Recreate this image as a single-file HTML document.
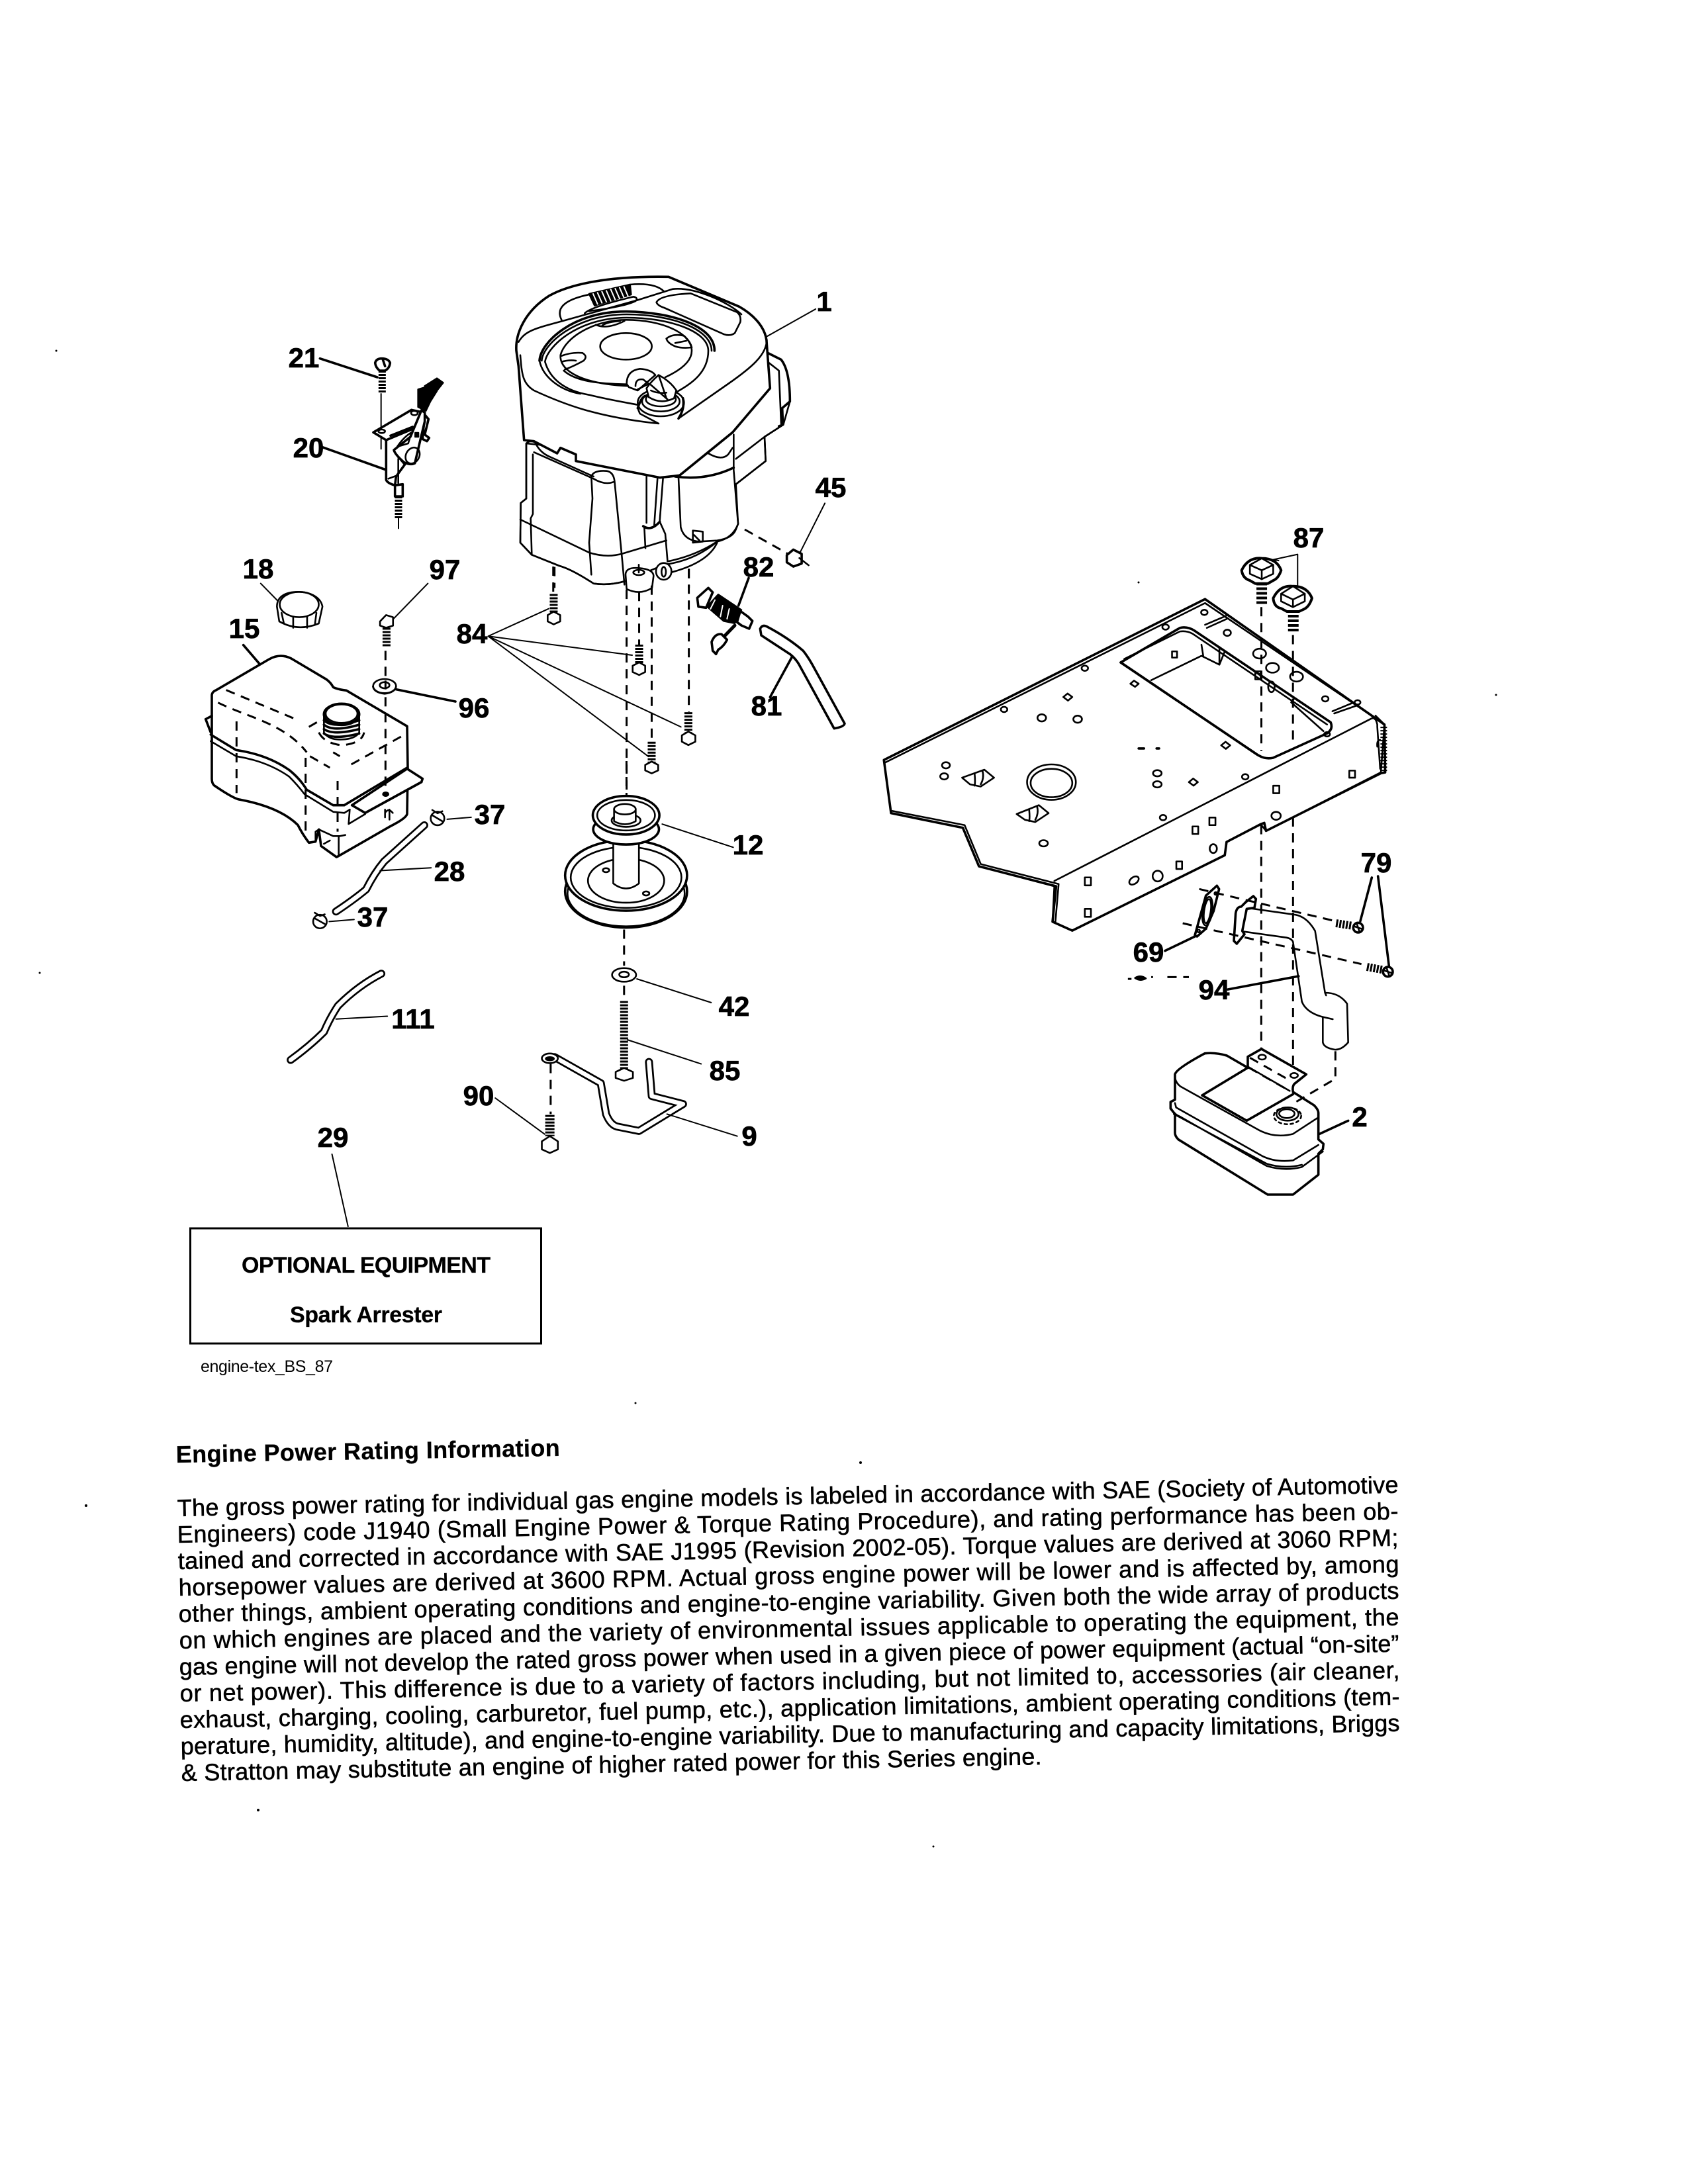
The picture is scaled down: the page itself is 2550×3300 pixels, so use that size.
<!DOCTYPE html>
<html><head><meta charset="utf-8"><style>
html,body{margin:0;padding:0;background:#fff}
svg{display:block}
.g *{vector-effect:non-scaling-stroke;fill:none;stroke:#000;stroke-width:2.6;stroke-linejoin:round;stroke-linecap:round}
.g .w{fill:#fff}
.g .b{fill:#000}
.g .th{stroke-width:2}
.g .h{stroke-width:3.6}
.g .d{stroke-dasharray:14 10;stroke-linecap:butt;stroke-width:3}
.g .t{stroke-dasharray:3 2;stroke-linecap:butt;stroke-width:12}
.g .tube{stroke-width:12}
.g .tw{stroke:#fff;stroke-width:6.5}
.l{font:bold 42px "Liberation Sans",sans-serif;text-anchor:middle;fill:#000;stroke:#000;stroke-width:.7}
.p{font:36px "Liberation Sans",sans-serif;fill:#000;stroke:#000;stroke-width:.55}
.o{font:bold 34px "Liberation Sans",sans-serif;fill:#000;stroke:#000;stroke-width:.3}
</style></head><body>
<svg xmlns="http://www.w3.org/2000/svg" width="2550" height="3300" viewBox="0 0 2550 3300">
<rect width="2550" height="3300" fill="#fff"/>

<!-- ENGINE -->
<g class="g" transform="matrix(.33333 0 0 .33333 750 420)">
<path class="w" d="M135 750L135 1000L110 1020L108 1200L160 1255L285 1305Q340 1320 440 1385Q510 1395 580 1375L760 1300Q900 1280 1000 1195Q1070 1180 1095 1115L1085 935L1220 830L1215 720L1300 665L1330 560Q1330 420 1290 370L1230 340L1000 700L600 800Z"/>
<path class="w" d="M90 330C85 250 130 150 240 80C330 30 500 -10 780 -5L1100 130C1170 170 1225 230 1225 300L1240 500L1070 700L830 895L740 905L360 830L360 800L290 770L275 795L170 740L125 735L100 400Z"/>
<path class="h" d="M90 330C85 250 130 150 240 80C330 30 500 -10 780 -5L1100 130C1170 170 1225 230 1225 300L1240 500L1070 700L830 895L740 905L360 830L360 800L290 770L275 795L170 740L125 735L100 400Z"/>
<path d="M108 350C115 440 120 480 170 510C300 570 450 630 735 660L650 615L640 590"/>
<path d="M825 637L1050 480C1150 410 1225 350 1225 280"/>
<path d="M100 290C130 240 170 230 300 195L640 100L800 50C900 40 1050 110 1110 165"/>
<path d="M725 110C735 90 780 75 880 70L1090 155Q1110 170 1105 200L1080 250Q1060 265 1030 255L760 135Q730 125 725 110Z"/>
<path d="M295 190C270 140 300 100 420 75M605 30Q720 20 760 62"/>
<path d="M400 160Q430 130 620 85Q645 90 630 105Q580 130 420 150"/>
<path class="b" d="M420 72L605 30L610 75L445 125Z"/>
<path style="stroke:#fff;stroke-width:2" d="M438 72L458 118M458 67L478 113M478 62L498 108M498 58L518 104M518 52L538 98M538 48L558 94M558 44L578 90M578 40L596 82"/>
<path class="h" d="M195 375C200 290 350 150 590 152C800 155 990 220 988 330"/>
<path d="M205 375C210 300 360 165 590 165C790 165 975 230 975 330"/>
<path d="M220 380C230 310 370 180 590 180C780 180 960 240 960 330C960 430 880 480 820 515M220 380C240 450 300 510 420 530C500 550 560 560 640 575M195 375C210 450 290 510 380 525"/>
<path d="M290 350C310 270 440 190 590 190C750 190 885 250 885 330C885 380 830 420 765 450M290 360C295 420 380 480 600 490M305 420C360 470 470 480 590 482"/>
<ellipse cx="587" cy="310" rx="117" ry="60"/>
<path d="M290 355Q340 335 390 340Q415 355 395 375Q350 400 310 415M295 380Q330 370 360 375"/>
<path d="M770 275Q800 250 850 262Q880 290 885 315Q840 320 810 310Q775 295 770 275M810 295L860 285"/>
<path d="M450 212Q500 235 580 195M480 215Q500 200 560 195"/>
<path class="w" d="M590 480Q590 420 650 412Q700 415 720 440L640 510L600 495Z"/>
<path d="M630 490Q630 455 665 460L690 480L640 505"/>
<ellipse class="w" cx="745" cy="565" rx="105" ry="62"/>
<ellipse cx="745" cy="560" rx="85" ry="45"/>
<ellipse cx="745" cy="550" rx="68" ry="32"/>
<path class="w" d="M680 500Q700 470 735 440Q790 470 815 510L805 545Q745 575 690 540Z"/>
<path d="M700 485L775 550M735 440L770 545M700 510Q730 525 770 520"/>
<path class="h" d="M640 590Q660 530 680 535M825 637Q855 590 845 545"/>
<path d="M135 750Q150 735 175 745Q195 790 240 810L440 900M135 750L135 1000L110 1020L108 1200L160 1255L285 1305Q340 1320 440 1385Q510 1395 580 1375"/>
<path d="M165 800L165 1070L155 1090L160 1255"/>
<path d="M108 1095L420 1245Q500 1270 570 1250L770 1190"/>
<path d="M430 1345L420 1200L435 1000L430 900Q440 870 500 875Q530 880 535 920L570 1280L580 1390"/>
<path d="M170 790L440 910Q490 940 530 925"/>
<path d="M680 900L680 1110M730 905L715 1120M755 905L740 1100"/>
<path class="h" d="M665 1125Q700 1150 740 1105"/>
<path d="M740 1105L765 1160L775 1280M670 1130L675 1225"/>
<path d="M825 905L835 1130Q850 1190 920 1195L1000 1190Q1070 1180 1085 1140L1095 1115L1075 870L1075 710"/>
<path class="h" d="M810 900Q950 920 1075 860"/>
<path d="M1085 820L1215 720L1220 830L1085 935M1215 720L1300 665M960 795Q1020 830 1050 800L1070 770"/>
<path class="h" d="M1230 340L1290 370Q1330 420 1330 560L1295 590L1298 665L1280 672"/>
<path d="M1235 385L1280 420L1290 660"/>
<path d="M775 1285Q900 1260 1000 1195M790 1335Q960 1290 1000 1200"/>
<ellipse class="w" cx="758" cy="1330" rx="35" ry="38"/>
<ellipse cx="758" cy="1332" rx="10" ry="22"/>
<path d="M890 1145L935 1150L935 1195L890 1200ZM895 1165L920 1190"/>
<path class="w" d="M585 1345Q585 1310 645 1315Q710 1320 712 1350L705 1405Q650 1440 590 1410Z"/>
<ellipse cx="645" cy="1335" rx="25" ry="12"/><path d="M645 1300V1335"/>
<path class="d" d="M263 1310V1405M872 1320V1405M1125 1140L1320 1250"/>
</g>

<!-- LEVER 20 / SCREW 21 -->
<g class="g" transform="matrix(.33333 0 0 .33333 540 520)">
<path class="h" d="M-170 65L90 150M-156 468L130 570"/>
<path class="w h" d="M80 85Q85 65 110 65Q140 65 148 85Q145 110 125 120H100Q82 105 80 85ZM115 70L125 100"/>
<line class="t" style="stroke-width:11" x1="112" y1="120" x2="112" y2="222"/>
<line class="th" x1="107" y1="225" x2="107" y2="475"/>
<path class="w h" d="M72 400L245 298L300 310L285 370L130 435Z"/>
<ellipse cx="110" cy="395" rx="15" ry="8"/><ellipse cx="258" cy="312" rx="15" ry="10"/>
<path class="h" d="M150 415L250 375"/>
<path class="w h" d="M130 435V615Q135 630 170 640L175 600L215 545L185 510L175 480"/>
<path d="M185 520V630M140 610L180 595"/>
<path class="w h" d="M305 320L322 340L305 410L325 425L315 440L295 430Z"/>
<path class="w h" d="M290 300L240 420L165 480Q170 500 210 535Q240 550 260 540L305 350L305 310Z"/>
<ellipse cx="250" cy="505" rx="30" ry="38" transform="rotate(30 250 505)"/>
<path class="b" d="M262 402H276V420H262Z"/>
<path d="M180 465Q210 420 245 400L230 450Z"/>
<path class="b" d="M275 205L310 195L360 212L330 260L310 302L275 285Z"/>
<path class="b" d="M305 190L360 155L388 175L362 208Z"/>
<path class="w h" d="M170 640L205 635V690H170Z"/>
<line class="t" style="stroke-width:11" x1="186" y1="690" x2="186" y2="790"/>
<line class="th" x1="186" y1="790" x2="186" y2="835"/>
</g>

<!-- FILTER 82 / HOSE 81 -->
<g class="g" transform="matrix(.33333 0 0 .33333 1030 860)">
<path class="h" d="M303 40L257 165"/>
<path class="b" d="M115 170L165 115L270 185L240 245L190 235Z"/>
<path style="stroke:#fff;stroke-width:2" d="M150 140L130 180M185 165L175 215M215 180L205 225"/>
<path class="w h" d="M70 130L120 85L140 105L110 175L75 170Z"/>
<path class="w h" d="M265 190L300 215L320 235L305 270L270 255L250 240Z"/>
<path style="stroke-width:5" d="M240 255L185 312"/>
<path class="w h" d="M135 330Q150 290 180 295L205 320Q190 350 165 365L155 385L140 370Z"/>
<path class="w h" d="M355 270Q365 250 385 260Q480 310 550 370Q570 395 590 430L738 700Q735 715 690 722L530 430Q515 405 490 385L360 300Z"/>
<path class="h" d="M498 400L400 580"/>
</g>

<!-- MAIN PARTS (zoom 1 coords) -->
<g class="g" transform="matrix(.7015 0 0 .6378 250 400)">
<line class="th" x1="1295" y1="170" x2="1400" y2="105"/>
<line class="th" x1="1420" y1="565" x2="1365" y2="685"/>
<path class="w h" d="M1338 688L1352 675L1370 685L1370 708L1352 715L1338 705Z"/>
<line x1="1365" y1="695" x2="1385" y2="712"/>
<line class="th" x1="205" y1="755" x2="245" y2="800"/>
<path class="w" d="M240 810C240 785 260 775 285 775C315 775 335 790 338 810L330 850Q285 870 245 845Z"/>
<ellipse cx="288" cy="805" rx="42" ry="30"/>
<path d="M250 825L255 850M275 835V860M305 835V860M325 825L322 850"/>
<line class="th" x1="565" y1="755" x2="490" y2="840"/>
<path class="w" d="M462 845L475 830L490 835V855L475 860L462 855Z"/>
<line class="t" x1="476" y1="860" x2="476" y2="905"/>
<line class="d" x1="835" y1="715" x2="835" y2="780"/>
<line class="t" x1="836" y1="780" x2="836" y2="825"/>
<path class="w" d="M823 830L836 822L850 830V845L836 852L823 845Z"/>
<line class="d" x1="1020" y1="775" x2="1020" y2="900"/>
<line class="t" x1="1020" y1="900" x2="1020" y2="945"/>
<path class="w" d="M1006 950L1020 942L1033 950V965L1020 972L1006 965Z"/>
<line class="d" x1="993" y1="770" x2="993" y2="1255"/>
<line class="d" x1="1047" y1="760" x2="1047" y2="1130"/>
<line class="t" x1="1047" y1="1130" x2="1047" y2="1180"/>
<path class="w" d="M1033 1185L1047 1177L1061 1185V1198L1047 1205L1033 1198Z"/>
<line class="d" x1="1127" y1="720" x2="1127" y2="1060"/>
<line class="t" x1="1126" y1="1060" x2="1126" y2="1108"/>
<path class="w" d="M1112 1115L1126 1106L1141 1115V1130L1126 1138L1112 1130Z"/>
<path class="th" d="M695 880L825 815M695 880L1005 925M695 880L1110 1095M695 880L1040 1165"/>
</g>

<!-- TANK -->
<g class="g" transform="matrix(.33333 0 0 .33333 290 960)">
<line class="h" x1="233" y1="44" x2="305" y2="128"/>
<path class="w h" d="M90 270Q92 255 110 248L350 108Q400 80 450 105L610 200Q630 215 640 235Q660 245 700 250L975 412L978 600L975 810Q970 830 900 865L665 1000L655 1005L585 955L575 880L560 935L530 940Q500 900 480 860Q400 780 220 745Q195 745 100 680Q90 670 90 650Z"/>
<path class="h" d="M62 380L90 365M62 380L85 440"/>
<path class="h" d="M85 450L200 520Q340 540 440 610Q490 650 520 700L640 770L690 770L975 600"/>
<path d="M85 480L200 548Q340 570 440 640Q480 680 510 720L640 800L690 805L715 790"/>
<path class="d" d="M155 248L470 380M118 305C250 370 420 400 520 530M202 390V715M515 555V885M660 660V890M530 415L590 380M535 548L625 600M640 530L670 548M722 585L960 452M575 440Q600 490 680 498Q770 490 780 440"/>
<ellipse class="w h" cx="678" cy="358" rx="80" ry="48"/>
<path d="M598 358V440Q620 475 680 472Q740 470 758 440V358"/>
<path class="h" d="M598 385Q640 425 758 385M598 405Q640 440 758 405M598 425Q640 455 758 425M598 445Q640 475 758 445"/>
<ellipse class="w" cx="678" cy="355" rx="72" ry="42"/>
<path class="w h" d="M725 770L975 605L1045 650L1040 665L785 805Z"/>
<path d="M715 790L710 855L785 810"/>
<path class="h" d="M1040 665L785 805"/>
<path d="M575 880L640 910L670 910L695 905M665 910V1000M575 880L560 890V935M598 945L625 930"/>
<ellipse class="b" cx="878" cy="720" rx="12" ry="8"/>
<path class="d" d="M877 70V185M877 280V700"/>
<path d="M875 790V825M895 790V835M875 805Q890 780 910 805"/>
<ellipse class="w" cx="873" cy="230" rx="52" ry="32"/>
<ellipse cx="873" cy="226" rx="22" ry="14"/>
<path class="d" d="M877 205V245"/>
<path class="h" d="M925 245L1194 300"/>
<path d="M820 232Q825 260 873 265Q920 260 925 232"/>
</g>

<!-- LOWER PARTS -->
<g class="g" transform="matrix(.6061 0 0 .6061 250 1150)">
<circle class="w" cx="678" cy="143" r="17"/><path d="M665 122L678 130L690 125M665 135L690 150"/>
<line class="th" x1="702" y1="145" x2="762" y2="140"/>
<circle class="w" cx="385" cy="400" r="17"/><path d="M372 378L385 386L397 382M372 392L397 406"/>
<line class="th" x1="408" y1="400" x2="470" y2="395"/>
<path class="tube" d="M645 160L545 250Q520 280 500 320Q470 345 425 375"/>
<path class="tw" d="M645 160L545 250Q520 280 500 320Q470 345 425 375"/>
<line class="th" x1="535" y1="273" x2="662" y2="266"/>
<path class="tube" d="M538 530Q480 560 430 610Q410 640 395 675Q360 710 312 745"/>
<path class="tw" d="M538 530Q480 560 430 610Q410 640 395 675Q360 710 312 745"/>
<line class="th" x1="425" y1="643" x2="553" y2="636"/>
<ellipse class="w h" cx="1148" cy="325" rx="152" ry="90"/>
<ellipse cx="1148" cy="330" rx="146" ry="82"/>
<ellipse class="w h" cx="1148" cy="285" rx="152" ry="88"/>
<ellipse cx="1148" cy="290" rx="138" ry="76"/>
<ellipse cx="1148" cy="298" rx="95" ry="55"/>
<ellipse cx="1098" cy="272" rx="8" ry="5"/><ellipse cx="1198" cy="330" rx="8" ry="5"/>
<path class="w" d="M1116 170V305Q1148 330 1180 305V170Z"/>
<ellipse class="w h" cx="1148" cy="170" rx="82" ry="38"/>
<ellipse class="w h" cx="1148" cy="135" rx="83" ry="48"/>
<ellipse cx="1148" cy="135" rx="72" ry="38"/>
<ellipse cx="1148" cy="148" rx="36" ry="16"/>
<path class="w" d="M1118 120V150Q1145 165 1172 150V120Z"/>
<ellipse class="w" cx="1145" cy="120" rx="27" ry="13"/>
<line class="d" x1="1149" y1="0" x2="1149" y2="85"/>
<line class="th" x1="1238" y1="157" x2="1415" y2="215"/>
<line class="d" x1="1143" y1="420" x2="1143" y2="510"/>
<ellipse class="w" cx="1143" cy="533" rx="30" ry="17"/>
<ellipse cx="1143" cy="532" rx="12" ry="7"/>
<line class="d" x1="1143" y1="560" x2="1143" y2="600"/>
<line class="th" x1="1175" y1="543" x2="1360" y2="602"/>
<line class="t" x1="1143" y1="598" x2="1143" y2="770"/>
<path class="w" d="M1122 775L1143 765L1165 775V790L1143 797L1122 790Z"/>
<line class="th" x1="1152" y1="695" x2="1335" y2="755"/>
<path class="tube" d="M970 738L1085 803L1098 880Q1110 910 1130 912L1180 922L1290 855L1212 835L1205 750"/>
<path class="tw" d="M970 738L1085 803L1098 880Q1110 910 1130 912L1180 922L1290 855L1212 835L1205 750"/>
<ellipse class="w" cx="958" cy="741" rx="20" ry="12"/>
<ellipse class="b" cx="958" cy="742" rx="10" ry="4"/>
<line class="th" x1="1250" y1="880" x2="1425" y2="935"/>
<line class="d" x1="960" y1="755" x2="960" y2="880"/>
<line class="t" style="stroke-width:14" x1="958" y1="882" x2="958" y2="935"/>
<path class="w" d="M938 948L958 935L978 948V968L958 977L938 968Z"/>
<line class="th" x1="822" y1="840" x2="945" y2="930"/>
<line class="th" x1="415" y1="980" x2="455" y2="1160"/>
</g>
<rect x="287.500" y="1856" width="530" height="174" fill="none" stroke="#000" stroke-width="3"/>

<!-- CHASSIS -->
<g class="g" transform="matrix(.54209 0 0 .66964 1300 780)">
<path class="w" d="M65 550L960 187L1460 470L1450 578L1130 710L1115 695L1020 735L1015 765L590 935L535 915L540 835L330 790L285 703L85 670Z"/>
<path class="h" d="M65 550L960 187L1460 470L1462 578L1450 580L1130 710L1125 692L1115 695L1020 735L1015 765L590 935L535 915L545 835L330 790L285 703L85 670Z"/>
<path d="M68 556L960 196L1415 445M88 665L290 697L335 785L552 830L543 915"/>
<path d="M540 823L1420 458Q1435 450 1440 470L1440 475L1448 570"/>
<path d="M1435 450L1460 470"/>
<line style="stroke-width:10;stroke-dasharray:2 3;stroke-linecap:butt" x1="1458" y1="475" x2="1458" y2="578"/>
<path d="M1440 520Q1438 505 1448 505"/>
<path class="h" d="M725 330L890 252Q910 248 930 258L1310 465Q1318 480 1300 490L1150 545Q1125 550 1100 535Z"/>
<path d="M735 322L890 260Q910 258 925 265L1300 470M810 370L950 315L1000 335M950 290L955 315M1000 295V335L1015 305M1015 305L1210 410L1200 420L1290 485"/>
<path class="h" d="M725 330L1100 535"/>
<ellipse cx="958" cy="217" rx="9" ry="6"/><ellipse cx="850" cy="250" rx="9" ry="6"/><ellipse cx="1022" cy="263" rx="10" ry="7"/><ellipse cx="625" cy="343" rx="9" ry="6"/><ellipse cx="400" cy="436" rx="9" ry="6"/><ellipse cx="505" cy="455" rx="12" ry="8"/><ellipse cx="605" cy="458" rx="12" ry="8"/><ellipse cx="238" cy="562" rx="11" ry="7"/><ellipse cx="233" cy="587" rx="11" ry="7"/><ellipse cx="827" cy="580" rx="12" ry="7"/><ellipse cx="827" cy="605" rx="12" ry="7"/><ellipse cx="1072" cy="588" rx="9" ry="6"/><ellipse cx="843" cy="680" rx="9" ry="6"/><ellipse cx="510" cy="738" rx="12" ry="7"/><ellipse cx="1295" cy="412" rx="9" ry="6"/><ellipse cx="1385" cy="420" rx="8" ry="5"/><ellipse cx="1300" cy="492" rx="8" ry="5"/>
<ellipse cx="1112" cy="310" rx="18" ry="11"/><ellipse cx="1148" cy="342" rx="18" ry="11"/><ellipse cx="1215" cy="362" rx="18" ry="11"/><ellipse cx="1145" cy="385" rx="9" ry="12"/>
<ellipse cx="762" cy="822" rx="14" ry="8" transform="rotate(-25 762 822)"/><ellipse cx="828" cy="812" rx="14" ry="12"/><ellipse cx="983" cy="750" rx="10" ry="10"/><ellipse cx="1158" cy="676" rx="13" ry="9"/>
<path d="M868 305h14v14h-14zM752 378l10-7 13 7-10 7zM565 408l12-8 13 8-12 8zM1005 517l12-8 13 8-12 8zM915 600l12-8 13 8-12 8zM1362 574h16v16h-16zM1150 608h17v17h-17zM972 680h17v17h-17zM925 700h16v17h-16zM880 779h16v17h-16zM625 815h17v18h-17zM625 886h17v18h-17zM1100 350h15v18h-15z"/>
<path d="M960 245L1018 225M965 252L1020 232M1315 440L1375 420M1320 445L1380 428"/>
<ellipse cx="532" cy="600" rx="68" ry="40"/><ellipse cx="532" cy="602" rx="58" ry="32"/>
<path d="M283 590L345 572L372 590L335 610L305 605ZM318 582Q320 600 318 608M340 575Q345 590 335 605"/>
<path d="M435 672L497 652L524 670L487 690L458 685ZM470 663Q472 680 470 688M492 655Q497 670 487 685"/>
<path d="M775 524H790M825 524H832" class="h"/>
<path class="w" d="M1062 122Q1080 92 1118 95Q1160 95 1172 122Q1165 140 1150 145L1135 152H1100L1085 145Q1065 140 1062 122Z" style="stroke-width:4"/>
<path class="w" d="M1085 110L1118 95L1150 110V130L1118 142L1085 130Z"/>
<path d="M1085 110L1118 122L1150 110M1118 122V142"/>
<line class="t" style="stroke-width:16;stroke-dasharray:4 3" x1="1118" y1="150" x2="1118" y2="200"/>
<path class="w" d="M1150 185Q1168 155 1205 158Q1245 158 1258 185Q1250 205 1235 210L1222 215H1188L1172 208Q1152 205 1150 185Z" style="stroke-width:4"/>
<path class="w" d="M1172 175L1205 158L1238 175V192L1205 205L1172 192Z"/>
<path d="M1172 175L1205 188L1238 175M1205 188V205"/>
<line class="t" style="stroke-width:16;stroke-dasharray:4 3" x1="1206" y1="212" x2="1206" y2="262"/>
<path class="th" d="M1150 98L1218 86L1218 155M1165 100L1150 98"/>
<path class="d" d="M1117 205V530M1205 268V505"/>
<path class="b" d="M765 1042Q780 1034 795 1043Q780 1050 765 1042Z"/>
<path class="d" d="M745 1044H755M810 1040H815M855 1040H915"/>
</g>

<!-- GASKET, PIPE, MUFFLER (zoom 9 coords) -->
<g class="g" transform="matrix(.33333 0 0 .33333 1740 1300)">
<path class="w h" d="M195 340L245 160L295 115L305 130L280 230L245 310L205 345Z"/>
<ellipse cx="252" cy="230" rx="15" ry="55" transform="rotate(8 252 230)"/>
<ellipse cx="252" cy="230" rx="22" ry="65" transform="rotate(8 252 230)"/>
<circle cx="290" cy="150" r="6"/><circle cx="212" cy="320" r="6"/>
<path class="w" d="M430 215L640 245Q700 250 740 320L785 600Q850 600 885 650L890 825Q860 860 830 858Q780 850 775 825L775 710Q700 690 680 640L640 370Q635 355 610 350L410 322Z"/>
<path class="w h" d="M380 240Q385 210 405 210L425 190L460 162L472 175L465 215L430 220L410 320L420 335L385 378L372 365Z"/>
<path d="M775 710L820 720M785 600L790 612"/>
<path class="d" d="M215 130L830 275M140 285L950 470"/>
<path class="d" d="M496 -160V850M640 -195V970"/>
<line class="t" x1="835" y1="285" x2="905" y2="296"/>
<circle class="w h" cx="935" cy="305" r="22"/><path d="M920 300L950 310M930 290L940 320"/>
<line class="t" x1="975" y1="483" x2="1045" y2="496"/>
<circle class="w h" cx="1070" cy="505" r="22"/><path d="M1055 500L1085 510M1065 490L1075 520"/>
<path class="h" d="M997 78L945 275M1025 72L1075 480"/>
<path class="h" d="M60 410L195 345M345 585L665 525"/>
<path class="w" d="M105 970Q110 945 240 875Q290 870 340 885L435 940L435 890L497 855L700 970L650 1010Q635 1020 640 1050L735 1110Q755 1130 755 1145L755 1265L778 1285L775 1310L755 1330L755 1425L640 1515L525 1515L120 1265Q105 1250 105 1235L105 1150L85 1125L85 1095L105 1085Z"/>
<path class="h" d="M105 970Q110 945 240 875Q290 870 340 885L435 940L435 890L497 855L700 970L650 1010Q635 1020 640 1050L735 1110Q755 1130 755 1145V1265L778 1285L775 1310L755 1330V1425L640 1515H525L120 1265Q105 1250 105 1235V1150L85 1125V1095L105 1085Z"/>
<path d="M105 985Q110 1010 130 1025L490 1225Q560 1260 640 1240L755 1165"/>
<path d="M105 1100L110 1120L500 1340Q560 1370 640 1360L755 1290"/>
<path d="M85 1120Q100 1150 125 1160L520 1385Q600 1410 680 1390L775 1320M100 1150L520 1375Q600 1400 680 1380"/>
<path class="h" d="M228 1065L435 940M228 1065L430 1180L640 1060"/>
<path d="M435 935L625 1045"/>
<ellipse cx="500" cy="892" rx="17" ry="11"/><ellipse cx="645" cy="975" rx="17" ry="11"/>
<path class="d" d="M445 895L630 1000M440 940L625 1045M832 865V990L645 1100"/>
<ellipse cx="615" cy="1150" rx="50" ry="30"/><ellipse cx="612" cy="1148" rx="35" ry="20"/>
<ellipse cx="615" cy="1158" rx="62" ry="38" style="stroke-dasharray:4 5"/>
<path class="h" d="M760 1240L890 1180"/>
</g>

<!-- PART LABELS -->
<g class="l">
<text x="1245" y="470">1</text><text x="459" y="555">21</text><text x="466" y="691">20</text>
<text x="1255" y="751">45</text><text x="1146" y="871">82</text><text x="390" y="874">18</text>
<text x="672" y="875">97</text><text x="369" y="964">15</text><text x="713" y="972">84</text>
<text x="716" y="1084">96</text><text x="1158" y="1081">81</text><text x="740" y="1245">37</text>
<text x="1130" y="1291">12</text><text x="679" y="1331">28</text><text x="563" y="1400">37</text>
<text x="624" y="1554">111</text><text x="1109" y="1535">42</text><text x="1095" y="1632">85</text>
<text x="723" y="1670">90</text><text x="1132" y="1731">9</text><text x="503" y="1733">29</text>
<text x="1977" y="827">87</text><text x="2079" y="1318">79</text><text x="1735" y="1453">69</text>
<text x="1834" y="1510">94</text><text x="2054" y="1702">2</text>
</g>

<!-- BOX TEXT -->
<text class="o" x="365" y="1923" textLength="376">OPTIONAL EQUIPMENT</text>
<text class="o" x="438" y="1998" textLength="230">Spark Arrester</text>
<text x="303" y="2073" textLength="200" style="font:25px 'Liberation Sans',sans-serif">engine-tex_BS_87</text>

<!-- PARAGRAPH -->
<text class="o" transform="translate(266 2210) rotate(-1)" textLength="580" style="font-size:36px">Engine Power Rating Information</text>
<g class="p">
<text transform="translate(268 2291) rotate(-1.1)" textLength="1845">The gross power rating for individual gas engine models is labeled in accordance with SAE (Society of Automotive</text>
<text transform="translate(268 2331) rotate(-1.1)" textLength="1845">Engineers) code J1940 (Small Engine Power &amp; Torque Rating Procedure), and rating performance has been ob-</text>
<text transform="translate(269 2371) rotate(-1.1)" textLength="1844">tained and corrected in accordance with SAE J1995 (Revision 2002-05). Torque values are derived at 3060 RPM;</text>
<text transform="translate(270 2411) rotate(-1.1)" textLength="1844">horsepower values are derived at 3600 RPM. Actual gross engine power will be lower and is affected by, among</text>
<text transform="translate(270 2451) rotate(-1.1)" textLength="1844">other things, ambient operating conditions and engine-to-engine variability. Given both the wide array of products</text>
<text transform="translate(271 2491) rotate(-1.1)" textLength="1843">on which engines are placed and the variety of environmental issues applicable to operating the equipment, the</text>
<text transform="translate(271 2531) rotate(-1.1)" textLength="1843">gas engine will not develop the rated gross power when used in a given piece of power equipment (actual “on-site”</text>
<text transform="translate(272 2571) rotate(-1.1)" textLength="1843">or net power). This difference is due to a variety of factors including, but not limited to, accessories (air cleaner,</text>
<text transform="translate(272 2611) rotate(-1.1)" textLength="1843">exhaust, charging, cooling, carburetor, fuel pump, etc.), application limitations, ambient operating conditions (tem-</text>
<text transform="translate(273 2651) rotate(-1.1)" textLength="1842">perature, humidity, altitude), and engine-to-engine variability. Due to manufacturing and capacity limitations, Briggs</text>
<text transform="translate(274 2691) rotate(-1.1)" textLength="1300">&amp; Stratton may substitute an engine of higher rated power for this Series engine.</text>
</g>

<g fill="#000"><circle cx="1300" cy="2210" r="2"/><circle cx="130" cy="2275" r="2"/><circle cx="390" cy="2735" r="2"/><circle cx="85" cy="530" r="1.500"/><circle cx="60" cy="1470" r="1.500"/><circle cx="1410" cy="2790" r="1.500"/><circle cx="2260" cy="1050" r="1.500"/><circle cx="1720" cy="880" r="1.500"/><circle cx="960" cy="2120" r="1.500"/></g>
</svg>
</body></html>
